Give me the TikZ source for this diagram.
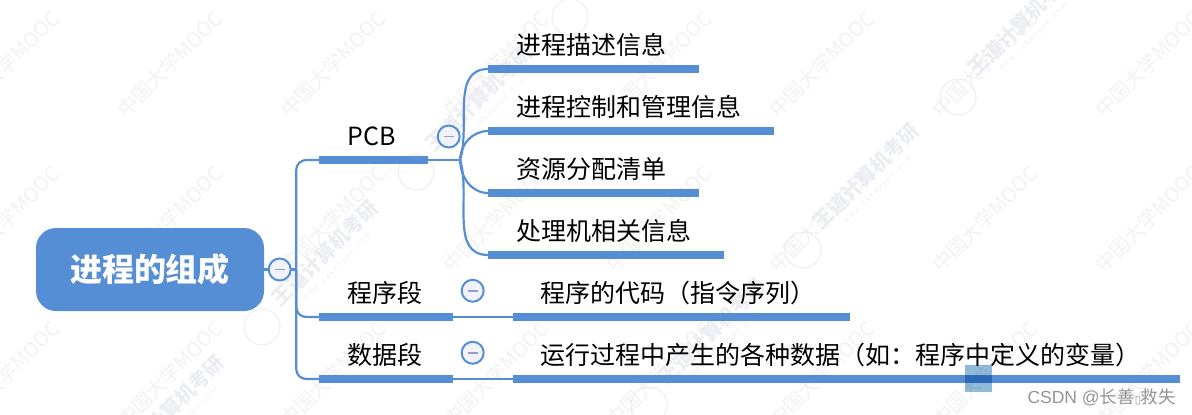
\documentclass[tikz,border=0pt]{standalone}
\usepackage{fontspec}
\setmainfont{Noto Sans CJK SC}
\newfontfamily\boxfont{DejaVu Sans}
\newfontfamily\markfont{Liberation Sans}
\usetikzlibrary{positioning, calc}
\definecolor{mapblue}{HTML}{558ED5}
\definecolor{foldfill}{HTML}{F2F3FA}
\definecolor{foldminus}{HTML}{9A9CC4}
\definecolor{markgray}{HTML}{F2F2F2}
\definecolor{brandgray}{HTML}{ECEDF3}
\definecolor{patchblue}{HTML}{8FBBD9}

\begin{document}
\begin{tikzpicture}[
                x=1pt, y=-1pt,
                root/.style={rectangle, fill=mapblue, text=white, rounded corners=20pt, minimum width=228pt, minimum height=83pt, inner sep=0pt, font=\fontsize{32}{36}\selectfont\bfseries},
                bar/.style={rectangle, fill=mapblue, minimum height=7.5pt, inner sep=0pt, outer sep=0pt},
                tag/.style={inner sep=0pt, text height=21pt, text depth=5pt, font=\fontsize{25}{30}\selectfont},
                link/.style={draw=mapblue, line width=2.2pt},
                fold/.style={circle, draw=mapblue, fill=foldfill, line width=2pt, minimum size=22pt, inner sep=0pt, path picture={
                    \draw[foldminus, line width=1.8pt] ([xshift=-5pt]path picture bounding box.center) -- ([xshift=5pt]path picture bounding box.center);
                }},
                mooc/.style={text=markgray, rotate=45, inner sep=0pt, font=\fontsize{20}{24}\selectfont},
                brand/.style={text=brandgray, rotate=45, inner sep=0pt, font=\fontsize{20}{24}\selectfont\bfseries},
                site/.style={text=brandgray, rotate=45, inner sep=0pt, font=\markfont\fontsize{7}{8}\selectfont},
                seal/.style={circle, draw=brandgray, line width=1pt, minimum size=36pt, inner sep=0pt}
            ]
            \useasboundingbox (0,0) rectangle (1192,415);

            % faint marks under the map
            \foreach \mx in {7,170,333,496,659,822,985,1148} {
                \foreach \my in {64,219,374} {
                    \node[mooc] (mooc\mx x\my) at (\mx,\my) {中国大学MOOC};
                }
            }
            \foreach \sx/\sy in {262/327,416/172,570/17,108/482,649/405,803/250,958/97} {
                \node[seal] (seal\sx) at (\sx,\sy) {};
                \node[brand] (brand\sx) at ($(\sx,\sy)+(63,-74)$) {王道计算机考研};
                \node[site] (site\sx) at ($(\sx,\sy)+(75,-60)$) {w w w . c s k a o y a n . c o m};
            }

            \node[root] (root) at (150,269.5) {进程的组成};

            \node[bar, minimum width=109pt, right=55pt of root, yshift=109.5pt] (pcbbar) {};
            \node[bar, minimum width=134pt, right=55pt of root, yshift=-47.5pt] (segbar) {};
            \node[bar, minimum width=134pt, right=55pt of root, yshift=-109.5pt] (databar) {};

            \node[bar, minimum width=211pt, right=60pt of pcbbar, yshift=91pt] (descbar) {};
            \node[bar, minimum width=286pt, right=60pt of pcbbar, yshift=29pt] (ctrlbar) {};
            \node[bar, minimum width=211pt, right=60pt of pcbbar, yshift=-33pt] (resbar) {};
            \node[bar, minimum width=236pt, right=60pt of pcbbar, yshift=-95pt] (cpubar) {};
            \node[bar, minimum width=337pt, right=60pt of segbar] (codebar) {};
            \node[bar, minimum width=667pt, right=60pt of databar] (varbar) {};

            \node[tag, above right=6pt and 28.5pt of pcbbar.north west] (pcb) {PCB};
            \node[tag, above right=6pt and 28.5pt of segbar.north west] (seg) {程序段};
            \node[tag, above right=6pt and 28.5pt of databar.north west] (data) {数据段};
            \node[tag, above right=6pt and 28.5pt of descbar.north west] (desc) {进程描述信息};
            \node[tag, above right=6pt and 28.5pt of ctrlbar.north west] (ctrl) {进程控制和管理信息};
            \node[tag, above right=6pt and 28.5pt of resbar.north west] (res) {资源分配清单};
            \node[tag, above right=6pt and 28.5pt of cpubar.north west] (cpu) {处理机相关信息};
            \node[tag, above right=6pt and 27.5pt of codebar.north west] (code) {程序的代码（指令序列）};
            \node[tag, above right=6pt and 27.5pt of varbar.north west] (var) {运行过程中产生的各种数据（如：程序中定义的变量）};

            \coordinate[right=32pt of root] (trunk);
            \coordinate[right=32pt of pcbbar] (fork);

            \draw[link] (root) -- (trunk);
            \draw[link, rounded corners=10pt] (trunk) |- (pcbbar.west);
            \draw[link, rounded corners=10pt] (trunk) |- (segbar.west);
            \draw[link, rounded corners=10pt] (trunk) |- (databar.west);

            \draw[link] (pcbbar) -- (fork);
            \draw[link] (fork) to[out=74, in=180] (descbar.west);
            \draw[link] (fork) to[out=90, in=180] (ctrlbar.west);
            \draw[link] (fork) to[out=-90, in=180] (resbar.west);
            \draw[link] (fork) to[out=-74, in=180] (cpubar.west);
            \draw[link] (segbar) -- (codebar);
            \draw[link] (databar) -- (varbar);

            \node[fold, right=3.5pt of root] (rootfold) {};
            \node[fold, above left=15pt and 3pt of fork] (pcbfold) {};
            \node[fold, above right=14pt and 9pt of segbar.north east, xshift=2pt] (segfold) {};
            \node[fold, above right=14pt and 9pt of databar.north east, xshift=2pt] (datafold) {};

            \node[rectangle, fill=patchblue, minimum size=27pt, inner sep=0pt, blend mode=multiply] (patch) at (978.5,378.5) {};

            \node[inner sep=0pt, text=black!42, anchor=east, font=\markfont\fontsize{17.5}{20}\selectfont] (csdn) at (1176,397) {CSDN @\fontspec{Noto Sans CJK SC}长善{\boxfont\fontsize{11}{11}\selectfont ▯}救失};
        \end{tikzpicture}
\end{document}
